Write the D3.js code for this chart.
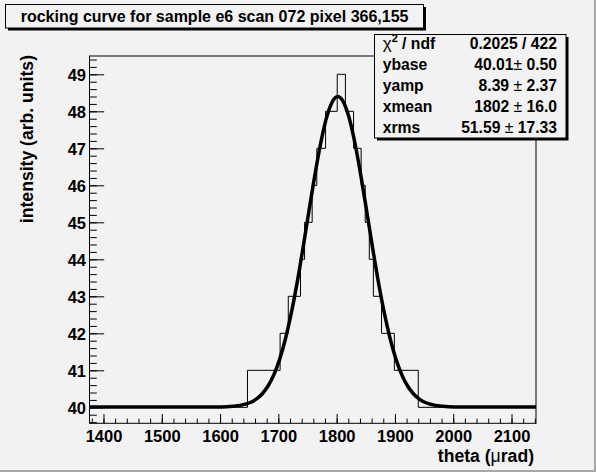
<!DOCTYPE html>
<html>
<head>
<meta charset="utf-8">
<script src="https://cdn.jsdelivr.net/npm/d3@7"></script>
<style>
  body { margin: 0; background: #f2f2f2; }
  svg { display: block; font-family: "Liberation Sans", Arial, sans-serif; }
</style>
</head>
<body>
<svg></svg>
<script>
// histogram: bin edges (theta) and the level of each bin
let histEdges = [1376, 1647, 1703, 1717, 1738, 1745, 1758, 1766, 1781, 1801, 1815,
                 1829, 1842, 1849, 1856, 1863, 1877, 1899, 1940, 2142]
let histValues = [40, 41, 42, 43, 44, 45, 46, 47, 48, 49,
                  48, 47, 46, 45, 44, 43, 42, 41, 40]

// fit curve
let fitTheta = [1376, 1602, 1622, 1642, 1652, 1662, 1672, 1682, 1692, 1702, 1712, 1722,
                1732, 1742, 1752, 1762, 1772, 1782, 1792, 1802, 1812, 1822, 1832, 1842,
                1852, 1862, 1872, 1882, 1892, 1902, 1912, 1922, 1932, 1942, 1952, 1962,
                1982, 2002, 2142]
let fitValues = [40.01, 40.01, 40.03, 40.08, 40.13, 40.22, 40.36, 40.57, 40.87, 41.29, 41.84, 42.53,
                 43.35, 44.28, 45.26, 46.22, 47.09, 47.79, 48.24, 48.40, 48.24, 47.79, 47.09, 46.22,
                 45.26, 44.28, 43.35, 42.53, 41.84, 41.29, 40.87, 40.57, 40.36, 40.22, 40.13, 40.08,
                 40.03, 40.01, 40.01]

let xTicks = [1400, 1500, 1600, 1700, 1800, 1900, 2000, 2100]
let yTicks = [40, 41, 42, 43, 44, 45, 46, 47, 48, 49]

let titleText = "rocking curve for sample e6 scan 072 pixel 366,155"
let statsLabels = ["ndf", "ybase", "yamp", "xmean", "xrms"]
let statsLeft = ["0.2025 / 422", "40.01", "8.39", "1802", "51.59"]
let statsErrors = ["", "0.50", "2.37", "16.0", "17.33"]

let width = 596
let height = 472
let frame = { left: 89.5, right: 536, top: 56, bottom: 423.3 }

let svg = d3.select("svg")
let xScale
let yScale

let drawCanvas = () => {
    svg.attr("width", width).attr("height", height)
    svg.append("rect").attr("width", width).attr("height", height).attr("fill", "#f2f2f2")
    // canvas bevel
    svg.append("rect").attr("x", width - 2).attr("y", 0).attr("width", 2).attr("height", height).attr("fill", "#a8a8a8")
    svg.append("rect").attr("x", 0).attr("y", height - 2).attr("width", width).attr("height", 2).attr("fill", "#a8a8a8")
}

let generateScales = () => {
    xScale = d3.scaleLinear()
        .domain([1376, 2142])
        .range([frame.left, frame.right])

    yScale = d3.scaleLinear()
        .domain([39.568, 49.495])
        .range([frame.bottom, frame.top])
}

let drawFrame = () => {
    svg.append("rect")
        .attr("x", frame.left)
        .attr("y", frame.top)
        .attr("width", frame.right - frame.left)
        .attr("height", frame.bottom - frame.top)
        .attr("fill", "none")
        .attr("stroke", "black")
        .attr("stroke-width", 1)
}

let drawHistogram = () => {
    let pts = histEdges.map((e, i) => [e, histValues[Math.min(i, histValues.length - 1)]])
    let line = d3.line()
        .x(d => xScale(d[0]))
        .y(d => yScale(d[1]))
        .curve(d3.curveStepAfter)
    svg.append("path")
        .datum(pts)
        .attr("d", line)
        .attr("fill", "none")
        .attr("stroke", "black")
        .attr("stroke-width", 1)
}

let drawFit = () => {
    let line = d3.line()
        .x((d, i) => xScale(fitTheta[i]))
        .y(d => yScale(d))
        .curve(d3.curveMonotoneX)
    svg.append("path")
        .datum(fitValues)
        .attr("d", line)
        .attr("fill", "none")
        .attr("stroke", "black")
        .attr("stroke-width", 3.5)
        .attr("stroke-linejoin", "round")
}

let generateAxis = () => {
    // x axis, ticks pointing into the frame
    let xMinor = d3.axisBottom(xScale)
        .tickValues(d3.range(1380, 2142, 20))
        .tickSizeInner(-4.7).tickSizeOuter(0).tickFormat("")
    let xAxis = d3.axisBottom(xScale)
        .tickValues(xTicks)
        .tickSizeInner(-9.3).tickSizeOuter(0)
        .tickFormat(d3.format("d"))

    svg.append("g").attr("transform", "translate(0," + frame.bottom + ")").call(xMinor)
    let gx = svg.append("g")
        .attr("id", "x-axis")
        .attr("transform", "translate(0," + frame.bottom + ")")
        .call(xAxis)
    gx.selectAll("text")
        .attr("y", 18.4).attr("dy", null)
        .attr("font-size", 16.5).attr("font-weight", "bold")
        .attr("font-family", "Liberation Sans, Arial, sans-serif")
        .attr("fill", "black")

    // y axis
    let yMinor = d3.axisLeft(yScale)
        .tickValues(d3.range(39.6, 49.45, 0.2))
        .tickSizeInner(-7.3).tickSizeOuter(0).tickFormat("")
    let yAxis = d3.axisLeft(yScale)
        .tickValues(yTicks)
        .tickSizeInner(-14.7).tickSizeOuter(0)
        .tickFormat(d3.format("d"))

    svg.append("g").attr("transform", "translate(" + frame.left + ",0)").call(yMinor)
    let gy = svg.append("g")
        .attr("id", "y-axis")
        .attr("transform", "translate(" + frame.left + ",0)")
        .call(yAxis)
    gy.selectAll("text")
        .attr("x", -3.5).attr("dy", "0.36em")
        .attr("font-size", 16.5).attr("font-weight", "bold")
        .attr("font-family", "Liberation Sans, Arial, sans-serif")
        .attr("fill", "black")

    svg.selectAll(".domain").remove()
    svg.selectAll(".tick line").attr("stroke", "black")

    // axis titles
    let xt = svg.append("text")
        .attr("x", 534).attr("y", 461.7)
        .attr("text-anchor", "end")
        .attr("font-size", 17.6).attr("font-weight", "bold")
    xt.append("tspan").text("theta (")
    xt.append("tspan").attr("font-weight", "normal").text("\u03bc")
    xt.append("tspan").text("rad)")

    svg.append("text")
        .attr("transform", "translate(33,55) rotate(-90)")
        .attr("text-anchor", "end")
        .attr("font-size", 17.6).attr("font-weight", "bold")
        .text("intensity (arb. units)")
}

let drawBox = (x, y, w, h) => {
    svg.append("rect").attr("x", x + 2.5).attr("y", y + 2.5).attr("width", w).attr("height", h).attr("fill", "black")
    svg.append("rect").attr("x", x).attr("y", y).attr("width", w).attr("height", h)
        .attr("fill", "#f2f2f2").attr("stroke", "black").attr("stroke-width", 1)
}

let drawTitle = () => {
    drawBox(5.5, 4.5, 418, 23.5)
    svg.append("text")
        .attr("x", 20.7).attr("y", 21.5)
        .attr("font-size", 16).attr("font-weight", "bold")
        .text(titleText)
}

let drawStats = () => {
    drawBox(374.5, 34.5, 191.5, 103.5)
    let rowY = d3.scaleLinear().domain([0, 4]).range([49, 133])

    statsLabels.forEach((lab, i) => {
        let t = svg.append("text")
            .attr("x", 382.7).attr("y", rowY(i))
            .attr("font-size", 15.7).attr("font-weight", "bold")
        if (i === 0) {
            t.append("tspan").attr("font-weight", "normal").attr("font-size", 17).text("\u03c7")
            t.append("tspan").attr("font-size", 11).attr("dy", -7).text("2")
            t.append("tspan").attr("dy", 7).text(" / " + lab)
        } else {
            t.text(lab)
        }

        let v = svg.append("text")
            .attr("x", 557).attr("y", rowY(i))
            .attr("text-anchor", "end")
            .attr("font-size", 15.7).attr("font-weight", "bold")
        if (statsErrors[i] === "") {
            v.text(statsLeft[i])
        } else {
            v.append("tspan").text(statsLeft[i] + (i === 1 ? "" : " "))
            v.append("tspan").attr("font-weight", "normal").text("\u00b1")
            v.append("tspan").text(" " + statsErrors[i])
        }
    })
}

drawCanvas()
generateScales()
drawHistogram()
drawFit()
drawFrame()
generateAxis()
drawTitle()
drawStats()
</script>
</body>
</html>
